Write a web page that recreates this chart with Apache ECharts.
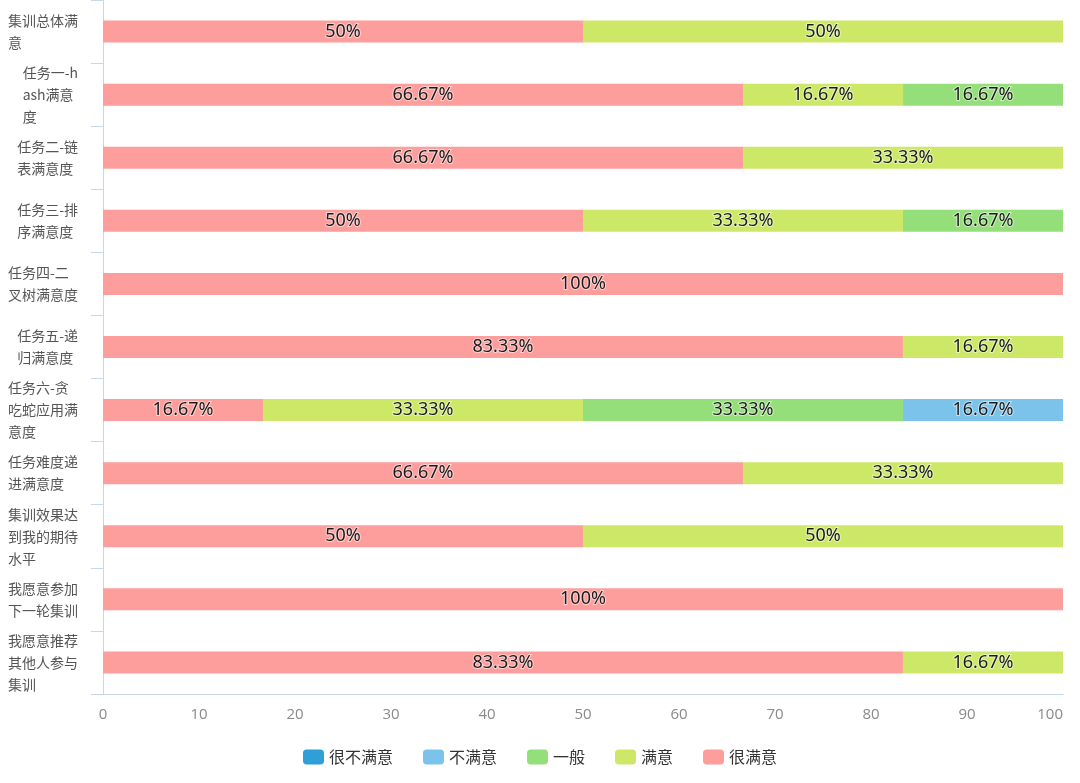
<!DOCTYPE html>
<html>
<head>
<meta charset="utf-8">
<script src="https://cdn.jsdelivr.net/npm/echarts@6/dist/echarts.min.js"></script>
<style>
html,body{margin:0;padding:0;background:#fff;}
#chart{width:1080px;height:783px;}
</style>
</head>
<body>
<div id="chart"></div>
<script>
const categories = ['集训总体满意','任务一-hash满意度','任务二-链表满意度','任务三-排序满意度','任务四-二叉树满意度','任务五-递归满意度','任务六-贪吃蛇应用满意度','任务难度递进满意度','集训效果达到我的期待水平','我愿意参加下一轮集训','我愿意推荐其他人参与集训'];
const seriesNames = ['很不满意','不满意','一般','满意','很满意'];
const veryDissatisfied = [0,0,0,0,0,0,0,0,0,0,0];
const dissatisfied = [0,0,0,0,0,0,16.67,0,0,0,0];
const neutral = [0,16.67,0,16.67,0,0,33.33,0,0,0,0];
const satisfied = [50,16.67,33.33,33.33,0,16.67,33.33,33.33,50,0,16.67];
const verySatisfied = [50,66.67,66.67,50,100,83.33,16.67,66.67,50,100,83.33];
const xTicks = [0,10,20,30,40,50,60,70,80,90,100];

const colors = {'很不满意':'#2f9fd8','不满意':'#7cc3ec','一般':'#95df7b','满意':'#cde866','很满意':'#fd9d9c'};
const valuesByName = {'很不满意':veryDissatisfied,'不满意':dissatisfied,'一般':neutral,'满意':satisfied,'很满意':verySatisfied};
const stackOrder = ['很满意','满意','一般','不满意','很不满意'];

function wrap(s){
  const chars = Array.from(s); const lines = [];
  for (let i=0;i<chars.length;i+=5) lines.push('{a|'+chars.slice(i,i+5).join('')+'}');
  return lines.join('\n');
}

const chart = echarts.init(document.getElementById('chart'));
chart.setOption({
  animation:false,
  grid:{left:103,right:17,top:0,bottom:89,containLabel:false},
  legend:{
    data:seriesNames, bottom:13, left:'center', itemWidth:21, itemHeight:15, itemGap:30,
    textStyle:{fontSize:16,color:'#333',fontFamily:'"Noto Sans CJK SC", sans-serif'}
  },
  xAxis:{
    type:'value', min:xTicks[0], max:xTicks[xTicks.length-1], interval:10,
    axisLine:{show:true,lineStyle:{color:'#c9d8e8'}},
    axisTick:{show:false}, splitLine:{show:false},
    axisLabel:{color:'#8a8a8a',fontSize:15,margin:13,alignMaxLabel:'right',fontFamily:'"Open Sans", sans-serif'}
  },
  yAxis:{
    type:'category', inverse:true, data:categories,
    axisLine:{show:true,lineStyle:{color:'#c9d8e8'}},
    axisTick:{show:true,length:12,lineStyle:{color:'#c9d8e8'}},
    axisLabel:{
      margin:25, formatter:function(v){return wrap(v);},
      rich:{a:{align:'left',fontSize:14,lineHeight:22,color:'#555',fontFamily:'"Noto Sans CJK SC", sans-serif'}}
    }
  },
  series: stackOrder.map(function(n){
    return {
      name:n, type:'bar', stack:'total', barWidth:22,
      itemStyle:{color:colors[n]},
      label:{show:true, position:'inside', fontSize:18, color:'#1a1a1a',
        textBorderColor:'rgba(255,255,255,0.55)', textBorderWidth:2,
        fontFamily:'"Noto Sans", sans-serif',
        formatter:function(p){return p.value>0 ? p.value+'%' : '';}},
      data: valuesByName[n].map(function(v){return v===0?'-':v;})
    };
  })
});
</script>
</body>
</html>
